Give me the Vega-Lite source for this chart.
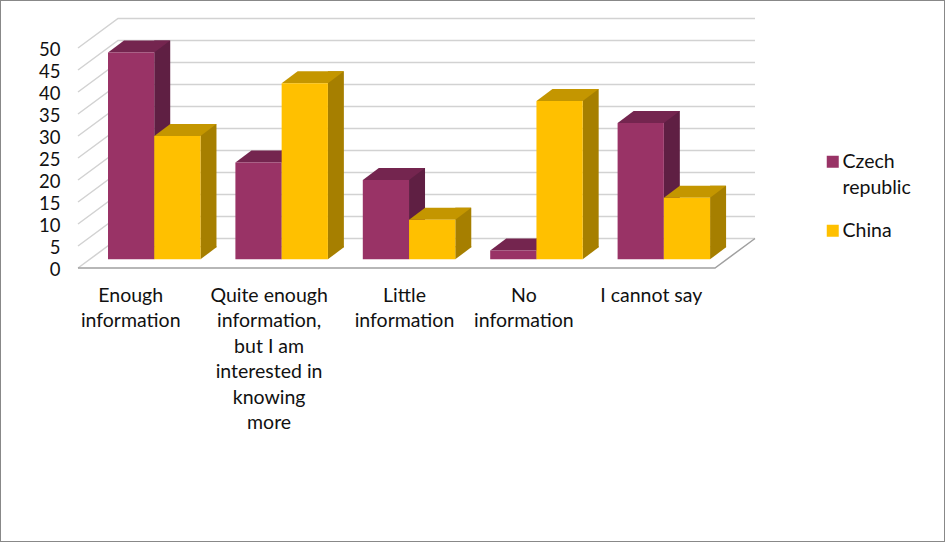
{
"$schema":"https://vega.github.io/schema/vega-lite/v6.json",
"width":945,"height":542,"padding":0,"autosize":{"type":"none"},"background":"white",
"config":{"view":{"stroke":"#888888","strokeWidth":2},"font":"Lato"},
"datasets":{
"bars":[
{"cat":"Enough information","series":"Czech republic","value":47},
{"cat":"Enough information","series":"China","value":28},
{"cat":"Quite enough information, but I am interested in knowing more","series":"Czech republic","value":22},
{"cat":"Quite enough information, but I am interested in knowing more","series":"China","value":40},
{"cat":"Little information","series":"Czech republic","value":18},
{"cat":"Little information","series":"China","value":9},
{"cat":"No information","series":"Czech republic","value":2},
{"cat":"No information","series":"China","value":36},
{"cat":"I cannot say","series":"Czech republic","value":31},
{"cat":"I cannot say","series":"China","value":14}],
"ticks":[{"t":0},{"t":5},{"t":10},{"t":15},{"t":20},{"t":25},{"t":30},{"t":35},{"t":40},{"t":45},{"t":50}]
},
"resolve":{"scale":{"xOffset":"independent"}},
"layer":[
{"data":{"name":"ticks"},
 "mark":{"type":"point","shape":"M0 0L40 -29.5L677 -29.5","size":4,"filled":false,"stroke":"#d2d2d2","strokeWidth":1.5,"opacity":1},
 "encoding":{"x":{"datum":"Enough information","bandPosition":0},"y":{"field":"t","type":"quantitative"}}},
{"data":{"values":[{"t":0}]},
 "mark":{"type":"point","shape":"M0 0L637 0L677 -29.5","size":4,"filled":false,"stroke":"#a0a0a0","strokeWidth":1.5,"opacity":1},
 "encoding":{"x":{"datum":"Enough information","bandPosition":0},"y":{"field":"t","type":"quantitative"}}},
{"data":{"name":"bars"},
 "mark":{"type":"bar","width":16,"yOffset":-20.7,"y2Offset":-20.7},
 "encoding":{"x":{"field":"cat"},"xOffset":{"field":"series","sort":null,"scale":{"domain":["Czech republic","China"],"range":[61.1,153.6],"padding":0}},"y":{"field":"value","type":"quantitative"},"y2":{"datum":0},
  "fill":{"condition":{"test":"datum.series=='China'","value":"#A67F00"},"value":"#5F1F43"}}},
{"data":{"name":"bars"},
 "mark":{"type":"point","shape":"M23.1 -13L39.1 -13L39.1 -12L23.1 0Z","size":4,"filled":true,"strokeWidth":0,"opacity":1,"yOffset":-8.7},
 "encoding":{"x":{"field":"cat"},"xOffset":{"field":"series","sort":null,"scale":{"type":"band","domain":["Czech republic","China"],"range":[30,122.5],"padding":0}},"y":{"datum":0},
  "fill":{"condition":{"test":"datum.series=='China'","value":"#A67F00"},"value":"#5F1F43"}}},
{"data":{"name":"bars"},
 "mark":{"type":"point","shape":"M-23.1 0L23.1 0L39.1 -12L-7.1 -12Z","size":4,"filled":true,"strokeWidth":0,"opacity":1,"yOffset":-8.7},
 "encoding":{"x":{"field":"cat"},"xOffset":{"field":"series","sort":null,"scale":{"type":"band","domain":["Czech republic","China"],"range":[30,122.5],"padding":0}},"y":{"field":"value","type":"quantitative"},
  "fill":{"condition":{"test":"datum.series=='China'","value":"#C49600"},"value":"#74254F"}}},
{"data":{"name":"bars"},
 "mark":{"type":"bar","yOffset":-8.7,"y2Offset":-8.7,"opacity":1},
 "encoding":{"x":{"field":"cat","type":"nominal","sort":null,"title":null,
   "scale":{"domain":["Enough information","Quite enough information, but I am interested in knowing more","Little information","No information","I cannot say"],"range":[78,715],"padding":0},
   "axis":{"orient":"bottom","offset":-274,"domain":false,"ticks":false,"labelAngle":0,"labelAlign":"center","labelPadding":18,"labelFontSize":19.5,"labelColor":"#111111","labelFont":"Lato","labelLimit":0,"labelLineHeight":25.5,"labelOverlap":false,"labelBound":false,"labelFlush":false,"labelBaseline":"top",
    "labelOffset":{"expr":"datum.value=='Enough information'?-11:datum.value=='Little information'?8:0"},
    "labelExpr":"indexof(datum.value,'Quite')==0?['Quite enough','information,','but I am','interested in','knowing','more']:datum.value=='I cannot say'?datum.value:split(datum.value,' ')"}},
  "xOffset":{"field":"series","type":"nominal","sort":null,"scale":{"domain":["Czech republic","China"],"range":[30,122.5],"padding":0}},
  "y":{"field":"value","type":"quantitative","title":null,
   "scale":{"domain":[0,50],"range":[268,48],"nice":false,"zero":true},
   "axis":{"orient":"left","offset":-60,"values":[0,5,10,15,20,25,30,35,40,45,50],"domain":false,"ticks":false,"grid":false,"labelPadding":0,"labelOffset":1.5,"labelFontSize":18.5,"labelColor":"#111111","labelFont":"Lato"}},
  "y2":{"datum":0},
  "color":{"field":"series","type":"nominal","sort":null,"title":null,
   "scale":{"domain":["Czech republic","China"],"range":["#993366","#FFC000"]},
   "legend":{"orient":"none","legendX":823,"legendY":152,"symbolType":"square","symbolSize":144,"symbolStrokeWidth":0,"labelFontSize":19.5,"labelFont":"Lato","labelColor":"#111111","labelLimit":0,"rowPadding":22,"labelOffset":0,"labelExpr":"split(datum.label,' ')",
    "encoding":{"labels":{"lineHeight":{"value":26}}}}}}}
]}
